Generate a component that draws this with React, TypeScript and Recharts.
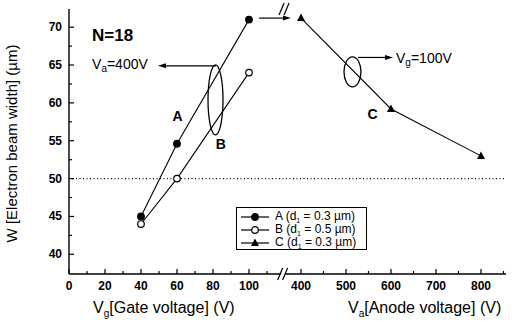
import { LineChart, Line, XAxis, YAxis, ReferenceLine, ReferenceDot, Legend } from "recharts";

// gate-voltage sweep (V_a = 400 V)
const gateVoltage = [40, 60, 100];
const widthA = [45, 54.6, 71];
const widthB = [44, 50, 64];

// anode-voltage sweep (V_g = 100 V)
const anodeVoltage = [400, 600, 800];
const widthC = [71.2, 59.2, 53];

const gateTicks = [0, 20, 40, 60, 80, 100];
const gateMinor = [10, 30, 50, 70, 90, 110];
const anodeTicks = [400, 500, 600, 700, 800];
const anodeMinor = [450, 550, 650, 750, 850];
const yTicks = [40, 45, 50, 55, 60, 65, 70];
const yMinor = [42.5, 47.5, 52.5, 57.5, 62.5, 67.5];

const legendItems = [
  { name: "A", d: "0.3", marker: "filled" },
  { name: "B", d: "0.5", marker: "open" },
  { name: "C", d: "0.3", marker: "triangle" },
];

// broken x axis: 400 V anode sits at 128.9 gate units, 100 V anode = 25 units
const BREAK_POS = 128.9;
const anodeToAxis = (v: number) => BREAK_POS + (v - 400) * 0.25;

const dataA = gateVoltage.map((x, i) => ({ x, y: widthA[i] }));
const dataB = gateVoltage.map((x, i) => ({ x, y: widthB[i] }));
const dataC = anodeVoltage.map((v, i) => ({ x: anodeToAxis(v), y: widthC[i] }));

const xMajor = new Map<number, number>();
gateTicks.forEach((t) => xMajor.set(t, t));
anodeTicks.forEach((t) => xMajor.set(anodeToAxis(t), t));
const xAllTicks = [
  ...gateTicks,
  ...gateMinor,
  ...anodeTicks.map(anodeToAxis),
  ...anodeMinor.map(anodeToAxis),
].sort((a, b) => a - b);
const yAllTicks = [...yTicks, ...yMinor].sort((a, b) => a - b);

const FONT = "'Liberation Sans', Arial, sans-serif";
const X_DOMAIN: [number, number] = [0, 242.8];
const Y_DOMAIN: [number, number] = [37.4, 72.4];

const XTick = (props: any) => {
  const { x, y, payload, side } = props;
  const label = xMajor.get(payload.value);
  const len = label !== undefined ? 5 : 3;
  const dir = side === "top" ? 1 : -1;
  return (
    <g>
      <line x1={x} x2={x} y1={y} y2={y + dir * len} stroke="#000" strokeWidth={1.2} />
      {side === "bottom" && label !== undefined && (
        <text x={x} y={y + 16} textAnchor="middle" fontSize={12} fontWeight="bold" fontFamily={FONT} fill="#000">
          {label}
        </text>
      )}
    </g>
  );
};

const YTick = (props: any) => {
  const { x, y, payload, side } = props;
  const major = yTicks.includes(payload.value);
  const len = major ? 5 : 3;
  const dir = side === "left" ? 1 : -1;
  return (
    <g>
      <line x1={x} x2={x + dir * len} y1={y} y2={y} stroke="#000" strokeWidth={1.2} />
      {side === "left" && major && (
        <text x={x - 7} y={y + 4} textAnchor="end" fontSize={12} fontWeight="bold" fontFamily={FONT} fill="#000">
          {payload.value}
        </text>
      )}
    </g>
  );
};

const Arrow = (props: any) => {
  const { x1, y1, x2, y2 } = props;
  const a = Math.atan2(y2 - y1, x2 - x1);
  const L = 8;
  const W = 2.5;
  const bx = x2 - L * Math.cos(a);
  const by = y2 - L * Math.sin(a);
  const px = -Math.sin(a) * W;
  const py = Math.cos(a) * W;
  return (
    <g>
      <line x1={x1} y1={y1} x2={bx} y2={by} stroke="#000" strokeWidth={1.2} />
      <polygon points={`${x2},${y2} ${bx + px},${by + py} ${bx - px},${by - py}`} fill="#000" />
    </g>
  );
};

const ellipseShape = (rx: number, ry: number) => (p: any) =>
  <ellipse cx={p.cx} cy={p.cy} rx={rx} ry={ry} fill="none" stroke="#000" strokeWidth={1.3} />;

const textShape = (content: any, size: number, weight = "bold") => (p: any) =>
  (
    <text x={p.cx} y={p.cy} dominantBaseline="middle" fontSize={size} fontWeight={weight} fontFamily={FONT} fill="#000">
      {content}
    </text>
  );

const breakShape = (p: any) => (
  <g>
    <polygon points={`${p.cx - 6},${p.cy + 6} ${p.cx - 1},${p.cy - 6} ${p.cx + 3},${p.cy - 6} ${p.cx - 2},${p.cy + 6}`} fill="#fff" />
    <line x1={p.cx - 7} y1={p.cy + 6} x2={p.cx - 2} y2={p.cy - 6} stroke="#000" strokeWidth={1.2} />
    <line x1={p.cx - 2} y1={p.cy + 6} x2={p.cx + 3} y2={p.cy - 6} stroke="#000" strokeWidth={1.2} />
  </g>
);

const Marker = ({ type, cx, cy }: { type: string; cx: number; cy: number }) => {
  if (type === "triangle")
    return <polygon points={`${cx},${cy - 4.5} ${cx - 4},${cy + 3} ${cx + 4},${cy + 3}`} fill="#000" />;
  return <circle cx={cx} cy={cy} r={3.3} fill={type === "open" ? "#fff" : "#000"} stroke="#000" strokeWidth={1.2} />;
};

const dotShape = (type: string) => (p: any) =>
  p.cx == null ? <g key={p.index} /> : <Marker key={p.index} type={type} cx={p.cx} cy={p.cy} />;

const LegendBox = () => (
  <div
    style={{
      boxSizing: "border-box",
      border: "1.3px solid #000",
      background: "#fff",
      padding: "2px 3px",
      fontFamily: FONT,
      fontSize: 12,
      width: 131,
      height: 43,
    }}
  >
    {legendItems.map((it) => (
      <div key={it.name} style={{ display: "flex", alignItems: "center", whiteSpace: "nowrap", height: 13, lineHeight: "13px" }}>
        <svg width={30} height={10} style={{ marginRight: 5, flex: "none" }}>
          <line x1={1} x2={29} y1={5} y2={5} stroke="#000" strokeWidth={1.2} />
          <Marker type={it.marker} cx={15} cy={5} />
        </svg>
        <span>
          {it.name} (d<span style={{ fontSize: 7, position: "relative", top: 3 }}>1</span> = {it.d} µm)
        </span>
      </div>
    ))}
  </div>
);

const AxisTitles = (p: any) => {
  const vb = p.viewBox;
  const base = vb.y + 39;
  return (
    <g fontFamily={FONT} fontSize={16} fill="#000">
      <text x={93} y={base}>
        V<tspan fontSize={10} dy={4}>g</tspan>
        <tspan dy={-4}>[Gate voltage] (V)</tspan>
      </text>
      <text x={348} y={base}>
        V<tspan fontSize={10} dy={4}>a</tspan>
        <tspan dy={-4}>[Anode voltage] (V)</tspan>
      </text>
    </g>
  );
};

const YTitle = (p: any) => {
  const vb = p.viewBox;
  const cy = vb.y + vb.height / 2 + 2;
  return (
    <text
      x={17}
      y={cy}
      transform={`rotate(-90 17 ${cy})`}
      textAnchor="middle"
      fontFamily={FONT}
      fontSize={15}
      fill="#000"
    >
      W [Electron beam width] (µm)
    </text>
  );
};

export default function App() {
  return (
    <div style={{ position: "absolute", left: 0, top: 0, background: "#fff" }}>
      <LineChart width={515} height={322} margin={{ top: 9, right: 9, bottom: 0, left: 0 }}>
        <XAxis
          xAxisId="b"
          dataKey="x"
          type="number"
          domain={X_DOMAIN}
          ticks={xAllTicks}
          interval={0}
          allowDataOverflow
          height={48}
          tickSize={0}
          tickMargin={0}
          stroke="#000"
          strokeWidth={1.4}
          tick={(p: any) => <XTick {...p} side="bottom" />}
          label={{ content: AxisTitles }}
        />
        <XAxis
          xAxisId="t"
          orientation="top"
          dataKey="x"
          type="number"
          domain={X_DOMAIN}
          ticks={xAllTicks}
          interval={0}
          allowDataOverflow
          height={0}
          tickSize={0}
          tickMargin={0}
          stroke="#000"
          strokeWidth={1.4}
          tick={(p: any) => <XTick {...p} side="top" />}
        />
        <YAxis
          yAxisId="l"
          type="number"
          domain={Y_DOMAIN}
          ticks={yAllTicks}
          interval={0}
          allowDataOverflow
          width={69}
          tickSize={0}
          tickMargin={0}
          stroke="#000"
          strokeWidth={1.4}
          tick={(p: any) => <YTick {...p} side="left" />}
          label={{ content: YTitle }}
        />
        <YAxis
          yAxisId="r"
          orientation="right"
          type="number"
          domain={Y_DOMAIN}
          ticks={yAllTicks}
          interval={0}
          allowDataOverflow
          width={0}
          tickSize={0}
          tickMargin={0}
          stroke="#000"
          strokeWidth={1.4}
          tick={(p: any) => <YTick {...p} side="right" />}
        />

        <ReferenceLine xAxisId="b" yAxisId="l" y={50} stroke="#000" strokeWidth={1.2} strokeDasharray="1 2.5" />

        <Line xAxisId="b" yAxisId="l" data={dataA} dataKey="y" name="A" stroke="#000" strokeWidth={1.1} dot={dotShape("filled")} activeDot={false} isAnimationActive={false} />
        <Line xAxisId="b" yAxisId="l" data={dataB} dataKey="y" name="B" stroke="#000" strokeWidth={1.1} dot={dotShape("open")} activeDot={false} isAnimationActive={false} />
        <Line xAxisId="b" yAxisId="l" data={dataC} dataKey="y" name="C" stroke="#000" strokeWidth={1.1} dot={dotShape("triangle")} activeDot={false} isAnimationActive={false} />

        {/* annotations */}
        <ReferenceLine xAxisId="b" yAxisId="l" segment={[{ x: 105.6, y: 71.2 }, { x: 123.3, y: 71.2 }]} shape={Arrow} />
        <ReferenceLine xAxisId="b" yAxisId="l" segment={[{ x: 81.7, y: 64.9 }, { x: 49.4, y: 64.9 }]} shape={Arrow} />
        <ReferenceLine xAxisId="b" yAxisId="l" segment={[{ x: 160.6, y: 66.0 }, { x: 180, y: 66.0 }]} shape={Arrow} />
        <ReferenceDot xAxisId="b" yAxisId="l" x={81.4} y={60.4} shape={ellipseShape(7.5, 35)} />
        <ReferenceDot xAxisId="b" yAxisId="l" x={157.5} y={64.1} shape={ellipseShape(8.5, 15)} />
        <ReferenceDot xAxisId="b" yAxisId="l" x={12.8} y={68.7} shape={textShape("N=18", 17)} />
        <ReferenceDot
          xAxisId="b"
          yAxisId="l"
          x={12.8}
          y={65.0}
          shape={textShape(
            <>
              V<tspan fontSize={10} dy={4}>a</tspan>
              <tspan dy={-4}>=400V</tspan>
            </>,
            14,
            "normal"
          )}
        />
        <ReferenceDot
          xAxisId="b"
          yAxisId="l"
          x={181.7}
          y={65.8}
          shape={textShape(
            <>
              V<tspan fontSize={10} dy={4}>g</tspan>
              <tspan dy={-4}>=100V</tspan>
            </>,
            14,
            "normal"
          )}
        />
        <ReferenceDot xAxisId="b" yAxisId="l" x={57.5} y={58.1} shape={textShape("A", 14)} />
        <ReferenceDot xAxisId="b" yAxisId="l" x={81.5} y={54.4} shape={textShape("B", 14)} />
        <ReferenceDot xAxisId="b" yAxisId="l" x={165.8} y={58.4} shape={textShape("C", 14)} />
        <ReferenceDot xAxisId="b" yAxisId="l" x={120.6} y={72.4} shape={breakShape} />
        <ReferenceDot xAxisId="b" yAxisId="l" x={119.8} y={37.4} shape={breakShape} />

        <Legend
          layout="horizontal"
          verticalAlign="middle"
          align="center"
          content={LegendBox}
          wrapperStyle={{ position: "absolute", left: 236, top: 207, width: 131, height: 43 }}
        />
      </LineChart>
    </div>
  );
}
